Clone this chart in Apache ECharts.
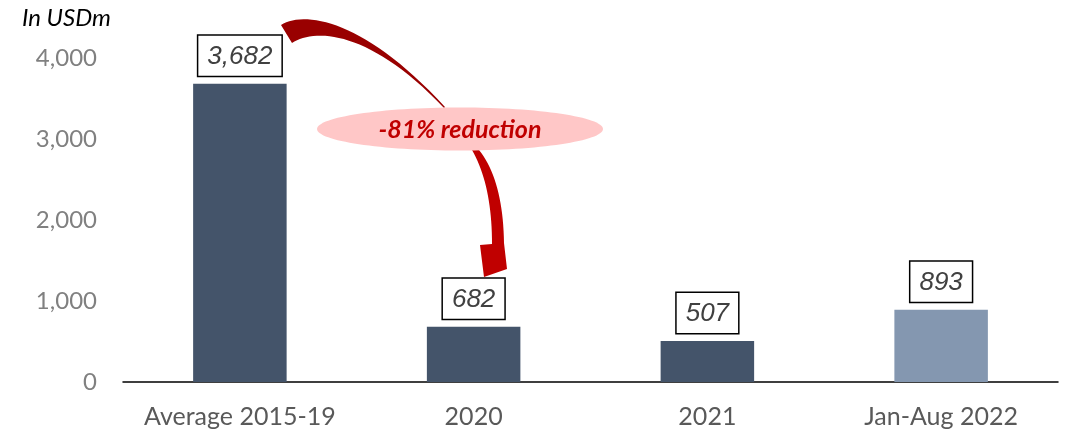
<!DOCTYPE html>
<html>
<head>
<meta charset="utf-8">
<script src="https://cdn.jsdelivr.net/npm/echarts@6/dist/echarts.min.js"></script>
<style>
html,body{margin:0;padding:0;background:#fff;}
#c{width:1069px;height:433px;}
</style>
</head>
<body>
<div id="c"></div>
<script>
const categories = ['Average 2015-19', '2020', '2021', 'Jan-Aug 2022'];
const values = [3682, 682, 507, 893];
const barColors = ['#44546A', '#44546A', '#44546A', '#8497B0'];
const yTicks = [0, 1000, 2000, 3000, 4000];
const unitLabel = 'In USDm';
const changeLabel = '-81% reduction';

const chart = echarts.init(document.getElementById('c'), null, {renderer: 'canvas'});
const fmt = v => v.toLocaleString('en-US');

// sample bezier curves into polygon points (annotation arrow only)
function cubic(p0, p1, p2, p3, n) {
  const pts = [];
  for (let i = 0; i <= n; i++) {
    const t = i / n, u = 1 - t;
    pts.push([
      u*u*u*p0[0] + 3*u*u*t*p1[0] + 3*u*t*t*p2[0] + t*t*t*p3[0],
      u*u*u*p0[1] + 3*u*u*t*p1[1] + 3*u*t*t*p2[1] + t*t*t*p3[1]
    ]);
  }
  return pts;
}
function quad(p0, p1, p2, n) {
  const pts = [];
  for (let i = 0; i <= n; i++) {
    const t = i / n, u = 1 - t;
    pts.push([
      u*u*p0[0] + 2*u*t*p1[0] + t*t*p2[0],
      u*u*p0[1] + 2*u*t*p1[1] + t*t*p2[1]
    ]);
  }
  return pts;
}
const upperArrow = cubic([281,25],[305,10],[365,20],[445,107],30)
  .concat(cubic([444,108],[370,30],[315,28],[292,43],30));
const lowerArrow = quad([472,150],[492,185],[492,244],20)
  .concat([[480,245],[484,277],[507,269]])
  .concat(quad([504,243],[503,180],[479,150],20));

chart.setOption({
  animation: false,
  backgroundColor: '#ffffff',
  grid: {left: 123, right: 11, top: 58, bottom: 51, containLabel: false},
  xAxis: {
    type: 'category',
    data: categories,
    axisTick: {show: false},
    axisLine: {lineStyle: {color: '#000000', width: 1.5}},
    axisLabel: {interval: 0, color: '#595959', fontSize: 25, fontFamily: 'Lato', margin: 22}
  },
  yAxis: {
    type: 'value',
    min: yTicks[0], max: yTicks[yTicks.length - 1], interval: 1000,
    splitLine: {show: false},
    axisLine: {show: false},
    axisTick: {show: false},
    axisLabel: {color: '#808080', fontSize: 24, fontFamily: 'Lato', margin: 26, formatter: fmt}
  },
  series: [{
    type: 'bar',
    barWidth: '40%',
    data: values.map((v, i) => ({value: v, itemStyle: {color: barColors[i]}})),
    label: {
      show: true,
      position: 'top',
      distance: 8,
      formatter: p => fmt(p.value),
      fontFamily: 'Liberation Sans',
      fontStyle: 'italic',
      fontSize: 26,
      color: '#404040',
      borderColor: '#000000',
      borderWidth: 1.5,
      backgroundColor: '#ffffff',
      padding: [7, 9, 5, 9],
      lineHeight: 28
    }
  }],
  graphic: [
    {
      type: 'text', left: 22, top: 6,
      style: {text: unitLabel, font: 'italic 24px Lato', fill: '#000000'}
    },
    {
      type: 'polygon', z: 10,
      shape: {points: upperArrow},
      style: {fill: '#990000'}
    },
    {
      type: 'polygon', z: 10,
      shape: {points: lowerArrow},
      style: {fill: '#C00000'}
    },
    {
      type: 'ellipse', z: 11,
      shape: {cx: 460, cy: 129, rx: 143, ry: 21.5},
      style: {fill: '#FFC7C7'}
    },
    {
      type: 'text', z: 12,
      x: 460, y: 130,
      style: {text: changeLabel, font: 'italic bold 25px Lato', fill: '#C00000', align: 'center', verticalAlign: 'middle'}
    }
  ]
});
</script>
</body>
</html>
